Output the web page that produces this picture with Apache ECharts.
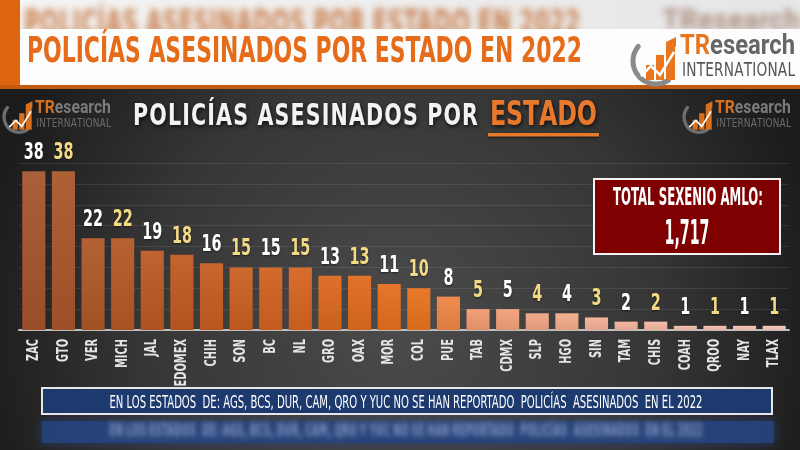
<!DOCTYPE html>
<html><head><meta charset="utf-8">
<script src="https://cdn.jsdelivr.net/npm/echarts@6/dist/echarts.min.js"></script>
<style>html,body{margin:0;padding:0;background:#222}#c{width:800px;height:450px}</style>
</head><body><div id="c"></div>
<script>
// ---------- DATA ----------
const categories = ['ZAC','GTO','VER','MICH','JAL','EDOMEX','CHIH','SON','BC','NL','GRO','OAX','MOR','COL','PUE','TAB','CDMX','SLP','HGO','SIN','TAM','CHIS','COAH','QROO','NAY','TLAX'];
const values = [38,38,22,22,19,18,16,15,15,15,13,13,11,10,8,5,5,4,4,3,2,2,1,1,1,1];
const yTicks = [0,5,10,15,20,25,30,35,40];
const titleText = 'POLICÍAS ASESINADOS POR ESTADO EN 2022';
const subtitleWhite = 'POLICÍAS ASESINADOS POR';
const subtitleOrange = 'ESTADO';
const totalLabel = 'TOTAL SEXENIO AMLO:';
const totalValue = '1,717';
const noteText = 'EN LOS ESTADOS  DE: AGS, BCS, DUR, CAM, QRO Y YUC NO SE HAN REPORTADO  POLICÍAS  ASESINADOS  EN EL 2022';

// ---------- HELPERS ----------
const NARROW = '"Liberation Sans Narrow", "DejaVu Sans Condensed", "Arial Narrow", sans-serif';
const mctx = document.createElement('canvas').getContext('2d');
function tw(text, size, weight, family){ mctx.font = weight + ' ' + size + 'px ' + family; return mctx.measureText(text).width; }
function fitText(o){
  const weight = o.weight || 'bold', family = o.family || NARROW;
  const w = tw(o.text, o.size, weight, family);
  const sx = o.width / w;
  const left = o.align === 'center' ? o.x - o.width/2 : o.x;
  return { type:'text', x:left + (o.shift||0), y:o.cy, scaleX:sx, z:o.z||100, silent:true,
    style:Object.assign({ text:o.text, x:0, y:0, fill:o.fill, fontSize:o.size, fontWeight:weight, fontFamily:family,
      align:'left', verticalAlign:'middle', textAlign:'left', textVerticalAlign:'middle' }, o.style||{}) };
}
function blurText(o, color, blur){
  // draw text off-canvas, show only its blurred shadow in place
  return fitText(Object.assign({}, o, { shift:-1200, fill:'#000',
    style:{ textShadowColor:color, textShadowBlur:blur, textShadowOffsetX:1200, textShadowOffsetY:0 } }));
}
function spacedText(text, x, cy, width, size, weight, family, fill, extra, cs){
  cs = cs || 1;
  const chars = [...text];
  const ws = chars.map(ch => tw(ch, size, weight, family) * cs);
  const total = ws.reduce((a,b)=>a+b,0);
  const gap = (width - total) / (chars.length - 1);
  let cx = x; const els = [];
  chars.forEach((ch,i)=>{
    if (ch !== ' ') els.push({ type:'text', x:cx, y:cy, scaleX:cs, z:100, silent:true,
      style:Object.assign({ text:ch, x:0, y:0, fill, fontSize:size, fontWeight:weight, fontFamily:family,
        align:'left', verticalAlign:'middle', textAlign:'left', textVerticalAlign:'middle' }, extra||{}) });
    cx += ws[i] + gap;
  });
  return els;
}
function logo(ox, oy, s, grayText, grayIntl, orange, arcCol, extra){
  const els = [];
  els.push({ type:'arc', z:100, silent:true, shape:{ cx:ox+26*s, cy:oy+26*s, r:23*s, startAngle:Math.PI*0.32, endAngle:Math.PI*1.22, clockwise:true },
    style:{ stroke:arcCol, lineWidth:5*s, fill:null, lineCap:'round' } });
  [[16,30,8,15],[26,20,8,25],[36,7,9,38]].forEach(b=>{
    els.push({ type:'rect', z:100, silent:true, shape:{ x:ox+b[0]*s, y:oy+b[1]*s, width:b[2]*s, height:b[3]*s }, style:{ fill:orange } });
  });
  els.push({ type:'polygon', z:100, silent:true, shape:{ points:[[ox+36*s,oy+7*s],[ox+46*s,oy+2*s],[ox+46*s,oy+12*s]] }, style:{ fill:orange } });
  els.push({ type:'polyline', z:101, silent:true, shape:{ points:[[ox+11*s,oy+41*s],[ox+21*s,oy+31*s],[ox+30*s,oy+40*s],[ox+44*s,oy+17*s]] },
    style:{ stroke:'#ffffff', lineWidth:2.5*s, fill:null } });
  const size = 28*s;
  const w = tw('TR', size, 'bold', 'Roboto, sans-serif') + tw('esearch', size, 'bold', 'Roboto, sans-serif');
  els.push({ type:'text', x:ox+50*s, y:oy+12*s, scaleX:(115*s)/w, z:100, silent:true,
    style:Object.assign({ text:'{a|TR}{b|esearch}', x:0, y:0, fontSize:size, fontWeight:'bold', fontFamily:'Roboto, sans-serif',
      align:'left', verticalAlign:'middle', textAlign:'left', textVerticalAlign:'middle',
      rich:{ a:{ fill:orange, fontSize:size, fontWeight:'bold', fontFamily:'Roboto, sans-serif' },
             b:{ fill:grayText, fontSize:size, fontWeight:'bold', fontFamily:'Roboto, sans-serif' } } }, extra||{}) });
  spacedText('INTERNATIONAL', ox+52*s, oy+36*s, 113*s, 19*s, 'normal', NARROW, grayIntl, extra, 0.8).forEach(e=>els.push(e));
  return els;
}
function hex2rgb(h){ return [parseInt(h.slice(1,3),16),parseInt(h.slice(3,5),16),parseInt(h.slice(5,7),16)]; }
function rgb2hex(c){ return '#' + c.map(v=>Math.max(0,Math.min(255,Math.round(v))).toString(16).padStart(2,'0')).join(''); }
const colorStops = [[0,'#a3552c'],[5,'#bf5a22'],[9,'#d6641f'],[13,'#e8721e'],[14,'#ee8444'],[15,'#f09b6e'],[19,'#f3b096'],[25,'#f6c7ba']];
function barColor(i){
  for (let k=0;k<colorStops.length-1;k++){
    const [i0,c0]=colorStops[k],[i1,c1]=colorStops[k+1];
    if (i>=i0 && i<=i1){ const t=(i-i0)/(i1-i0); const a=hex2rgb(c0),b=hex2rgb(c1); return a.map((v,j)=>v+(b[j]-v)*t); }
  }
  return hex2rgb(colorStops[colorStops.length-1][1]);
}
function barGrad(i){
  const c = barColor(i);
  const top = c.map(v=>v+(255-v)*0.06), bot = c.map(v=>v*0.93);
  return new echarts.graphic.LinearGradient(0,0,0,1,[{offset:0,color:rgb2hex(top)},{offset:1,color:rgb2hex(bot)}]);
}

// ---------- GRAPHICS ----------
const g = [];
g.push({ type:'rect', z:90, silent:true, shape:{x:0,y:0,width:800,height:30}, style:{ fill:new echarts.graphic.LinearGradient(0,0,1,0,[{offset:0,color:'#f4f4f4'},{offset:1,color:'#e6e6e6'}]) } });
g.push(blurText({ text:titleText, x:24, cy:26, width:556, size:36, z:91 }, 'rgba(196,112,58,0.9)', 7));
g.push(blurText({ text:'TResearch', x:662, cy:22, width:138, size:30, family:'Roboto, sans-serif', z:91 }, 'rgba(150,110,90,0.75)', 7));
g.push({ type:'rect', z:92, silent:true, shape:{x:0,y:0,width:20,height:88}, style:{ fill:'#dd650f' } });
g.push({ type:'rect', z:92, silent:true, shape:{x:20,y:29,width:780,height:57}, style:{ fill:'#fdfdfd' } });
g.push({ type:'rect', z:93, silent:true, shape:{x:0,y:85,width:800,height:4}, style:{ fill:'#c45a10' } });
g.push(fitText({ text:titleText, x:27, cy:53, width:555, size:36, fill:'#e66c1a' }));
logo(630, 35, 1, '#666666', '#555555', '#e8761e', '#8a8a8a').forEach(e=>g.push(e));
logo(2, 100, 0.66, '#7b7b7b', '#6b6b6b', '#d8701e', '#6e6e6e').forEach(e=>g.push(e));
logo(682, 100, 0.66, '#7b7b7b', '#6b6b6b', '#d8701e', '#6e6e6e').forEach(e=>g.push(e));
const subShadow = { textShadowColor:'rgba(0,0,0,0.7)', textShadowBlur:4, textShadowOffsetX:1, textShadowOffsetY:2 };
spacedText(subtitleWhite, 133, 117, 345, 31, 'bold', NARROW, '#f2f2f2', subShadow, 0.74).forEach(e=>g.push(e));
spacedText(subtitleOrange, 490, 116, 107, 33, 'bold', NARROW, '#e8792c', subShadow, 0.8).forEach(e=>g.push(e));
g.push({ type:'rect', z:100, silent:true, shape:{x:488,y:133,width:111,height:3.5}, style:{ fill:'#e8792c', shadowColor:'rgba(0,0,0,0.6)', shadowBlur:3, shadowOffsetY:1 } });
g.push({ type:'rect', z:100, silent:true, shape:{x:594,y:179,width:186,height:75}, style:{ fill:'#7e0000', stroke:'#f2f2f2', lineWidth:2 } });
g.push(fitText({ text:totalLabel, x:688, cy:199, width:150, size:24, align:'center', fill:'#ffffff', z:101 }));
g.push(fitText({ text:totalValue, x:687, cy:235, width:45, size:34, align:'center', fill:'#ffffff', z:101 }));
g.push({ type:'rect', z:100, silent:true, shape:{x:42,y:388,width:730,height:26}, style:{ fill:'#1d3a6e', stroke:'#e6e6e6', lineWidth:2 } });
g.push(fitText({ text:noteText, x:406, cy:404, width:593, size:17, weight:'normal', align:'center', fill:'#ffffff', z:101 }));
g.push({ type:'rect', z:99, silent:true, shape:{x:42,y:421,width:732,height:22}, style:{ fill:'rgba(38,66,122,0.9)', shadowColor:'rgba(38,66,122,0.95)', shadowBlur:10 } });
g.push(blurText({ text:noteText, x:406, cy:432, width:593, size:17, align:'center', z:100 }, 'rgba(140,158,200,0.95)', 5));

// label scales (condensed look)
const VAL_SIZE = 23, CAT_SIZE = 16;
const valScale = 20 / tw('38', VAL_SIZE, 'bold', NARROW);
const catScale = 22 / tw('ZAC', CAT_SIZE, 'bold', NARROW);

// ---------- CHART ----------
const chart = echarts.init(document.getElementById('c'), null, { renderer:'canvas' });
chart.setOption({
  animation:false,
  backgroundColor: new echarts.graphic.RadialGradient(0.5, 0.72, 0.95, [{offset:0,color:'#4b4b4b'},{offset:0.6,color:'#363636'},{offset:1,color:'#1c1c1c'}]),
  grid:{ left:19, right:11, top:163, bottom:120, containLabel:false },
  xAxis:{ type:'category', data:categories,
    axisLine:{ lineStyle:{ color:'#bdbdbd', width:2 } }, axisTick:{ show:false }, axisLabel:{ show:false } },
  yAxis:{ type:'value', min:yTicks[0], max:yTicks[yTicks.length-1], interval:yTicks[1]-yTicks[0],
    axisLabel:{ show:false }, axisLine:{ show:false }, axisTick:{ show:false },
    splitLine:{ lineStyle:{ color:'rgba(255,255,255,0.09)', width:1 } } },
  series:[
    { type:'bar', barCategoryGap:'22%',
      data: values.map((v,i)=>({ value:v, itemStyle:{ color:barGrad(i) } })) },
    { type:'custom', z:5, silent:true,
      data: values.map((v,i)=>[i,v]),
      renderItem:(params, api)=>{
        const i = api.value(0), v = api.value(1);
        const p = api.coord([i, v]);
        const base = api.coord([i, 0]);
        return { type:'group', children:[
          { type:'text', x:p[0], y:p[1]-18, scaleX:valScale,
            style:{ text:String(v), fill: i%2 ? '#f3da84' : '#ffffff', fontSize:VAL_SIZE, fontWeight:'bold', fontFamily:NARROW,
              align:'center', verticalAlign:'middle', textShadowColor:'rgba(0,0,0,0.5)', textShadowBlur:2, textShadowOffsetY:1 } },
          { type:'text', x:base[0], y:base[1]+9, rotation:Math.PI/2, scaleX:catScale,
            style:{ text:categories[i], fill:'#e4e4e4', fontSize:CAT_SIZE, fontWeight:'bold', fontFamily:NARROW,
              align:'right', verticalAlign:'middle' } }
        ]};
      } }
  ],
  graphic:{ elements:g }
});
</script></body></html>
